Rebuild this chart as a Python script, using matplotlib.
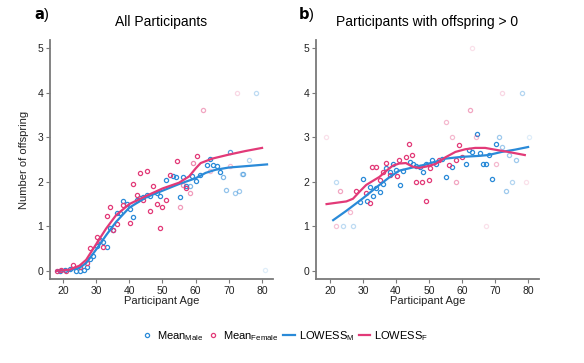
import numpy as np
import matplotlib
matplotlib.use("Agg")
import matplotlib.pyplot as plt
from matplotlib.lines import Line2D

plt.rcParams["font.family"] = ["Liberation Sans", "DejaVu Sans"]
plt.rcParams["mathtext.default"] = "regular"

BLUE = "#2a8ad8"
PINK = "#e23a78"
GREY = "#7a7a7a"

# ---- panel a: all participants (age, mean offspring, weight) ----
a_male_age = [19, 20.5, 22.2, 24, 25.2, 26.2, 27.2, 28.2, 29.2, 30.2, 31.2, 32.2, 33.2, 34.2,
              35.2, 36.2, 37.2, 38.2, 39.2, 40.2, 41.2, 42.2, 43.2, 44.2, 45.2, 46.2, 48.2,
              49.2, 51.2, 53.2, 54.2, 55.2, 56.2, 57.2, 58.2, 59, 60.2, 61.3, 63.4, 64.3,
              65.2, 66.3, 67.3, 68.3, 69, 70.3, 71.8, 73, 74, 74.2, 76.1, 78.2, 81]
a_male_val = [0, 0.02, 0.04, 0.01, 0, 0.02, 0.1, 0.26, 0.34, 0.56, 0.69, 0.66, 0.54, 0.96,
              0.93, 1.31, 1.29, 1.57, 1.51, 1.40, 1.20, 1.59, 1.63, 1.66, 1.70, 1.69, 1.74,
              1.68, 2.05, 2.13, 2.10, 1.65, 2.11, 1.90, 1.90, 2.13, 2.02, 2.15, 2.38, 2.51,
              2.38, 2.35, 2.22, 2.11, 1.81, 2.67, 1.75, 1.80, 2.17, 2.17, 2.50, 4.0, 0.02]
a_male_w = [1, 1, 1, 1, 1, 1, 1, 1, 1, 1, 1, 1, 1, 1,
            1, 1, 1, 1, 1, 1, 1, 1, 1, 1, 1, 1, 1,
            1, 1, 1, 1, 1, 1, 1, 0.6, 1, 1, 1, 1, 1,
            1, 1, 1, 0.6, 0.5, 0.8, 0.45, 0.45, 0.35, 0.6, 0.35, 0.3, 0.15]

a_fem_age = [18.2, 19.3, 21, 23, 25.2, 27.2, 28.2, 30.2, 31, 32.2, 33.2, 34.2, 35.2, 36.2,
             38.2, 40.2, 41.2, 42.2, 43.2, 44.2, 45.3, 46.2, 47.2, 48.2, 49.2, 50, 51.2,
             52.2, 54.4, 55.2, 56.2, 57.2, 58.2, 59.2, 60.4, 62.2, 64.3, 70.3, 72.5]
a_fem_val = [0, 0.02, 0, 0.13, 0.08, 0.17, 0.52, 0.77, 0.68, 0.54, 1.23, 1.44, 0.93, 1.05,
             1.49, 1.07, 1.96, 1.70, 2.20, 1.60, 2.24, 1.35, 1.90, 1.51, 0.96, 1.43, 1.60,
             2.15, 2.47, 1.43, 1.93, 1.85, 1.74, 2.42, 2.58, 3.61, 2.24, 2.35, 4.0]
a_fem_w = [1, 1, 1, 1, 1, 1, 1, 1, 1, 1, 1, 1, 1, 1,
           1, 1, 1, 1, 1, 1, 1, 1, 1, 1, 1, 1, 1,
           1, 1, 0.5, 0.6, 1, 0.5, 0.6, 1, 0.45, 0.35, 0.35, 0.2]

a_lowess_m_age = [18, 22, 25, 27, 30, 33, 36, 40, 45, 50, 55, 60, 63, 66, 70, 75, 81.5]
a_lowess_m_val = [0, 0.02, 0.07, 0.18, 0.48, 0.8, 1.1, 1.42, 1.65, 1.8, 1.95, 2.08, 2.2, 2.27,
                  2.32, 2.35, 2.39]
a_lowess_f_age = [18, 22, 25, 27, 30, 33, 36, 40, 45, 50, 55, 58, 60, 61.5, 65, 70, 75, 80]
a_lowess_f_val = [0, 0.03, 0.12, 0.25, 0.6, 0.95, 1.25, 1.5, 1.68, 1.85, 1.98, 2.12, 2.3, 2.42,
                  2.52, 2.61, 2.69, 2.76]

# ---- panel b: participants with offspring > 0 ----
b_male_age = [22, 24, 27, 29, 29.9, 31.3, 32.1, 33.1, 34.1, 35.1, 36.1, 37.1, 38.1, 39.2,
              40, 41.2, 42.2, 44.2, 45.2, 46.2, 47.2, 48.2, 49.2, 51, 52, 54, 55.1, 57.1,
              61.1, 62.1, 63.1, 64.4, 65.4, 66.4, 67.4, 68.2, 69.1, 70.2, 71.2, 72.2, 73.2,
              74.2, 75.2, 76.3, 78.3, 80.3]
b_male_val = [2.0, 1.0, 1.0, 1.55, 2.07, 1.57, 1.89, 1.68, 1.87, 1.78, 1.96, 2.32, 2.22, 2.40,
              2.26, 1.93, 2.25, 2.45, 2.41, 2.36, 2.34, 2.22, 2.41, 2.5, 2.41, 2.52, 2.1, 2.34,
              2.41, 2.71, 2.67, 3.08, 2.65, 2.41, 2.4, 2.6, 2.07, 2.84, 3.0, 2.78, 1.8,
              2.6, 2.0, 2.49, 4.0, 3.0]
b_male_w = [0.3, 0.3, 0.3, 1, 1, 1, 1, 1, 1, 1, 1, 1, 1, 1,
            1, 1, 1, 1, 1, 1, 1, 1, 1, 1, 1, 1, 1, 1,
            1, 1, 1, 1, 1, 1, 1, 1, 1, 1, 0.45, 0.45, 0.45,
            0.45, 0.35, 0.45, 0.35, 0.15]

b_fem_age = [18.8, 22, 23, 26, 28, 31, 32.1, 32.9, 33.9, 35.1, 36.1, 37.1, 38.1, 40.2,
             41, 43, 44, 45, 46, 48, 49, 50, 50.2, 53, 55.1, 56.1, 57.1, 58.1, 58.1,
             59.1, 60.1, 62.3, 63.1, 64.2, 67.4, 70.2, 72.2, 79.5]
b_fem_val = [3.0, 1.0, 1.8, 1.33, 1.8, 1.74, 1.53, 2.34, 2.34, 2.05, 2.22, 2.43, 2.15, 2.13,
             2.5, 2.56, 2.84, 2.6, 2.0, 2.0, 1.57, 2.05, 2.3, 2.49, 3.34, 2.37, 3.0, 2.49, 2.0,
             2.82, 2.56, 3.6, 5.0, 3.0, 1.0, 2.41, 4.0, 2.0]
b_fem_w = [0.15, 0.3, 0.45, 0.35, 1, 1, 1, 1, 1, 1, 1, 1, 1, 1,
           1, 1, 1, 1, 1, 1, 1, 1, 1, 1, 0.35, 1, 0.35, 1, 0.45,
           1, 1, 0.45, 0.15, 0.35, 0.15, 0.35, 0.2, 0.15]

b_lowess_m_age = [21, 25, 30, 35, 38, 41, 45, 48, 52, 55, 60, 65, 68, 72, 76, 80]
b_lowess_m_val = [1.14, 1.35, 1.63, 1.93, 2.1, 2.25, 2.32, 2.37, 2.45, 2.52, 2.56, 2.58, 2.6,
                  2.67, 2.72, 2.78]
b_lowess_f_age = [19, 22, 25, 27, 29, 31, 33, 35, 37, 39, 41, 43, 45, 47, 49, 52, 55, 58, 61,
                  64, 67, 70, 74, 79]
b_lowess_f_val = [1.5, 1.53, 1.56, 1.62, 1.78, 1.93, 2.02, 2.11, 2.24, 2.36, 2.41, 2.42, 2.34,
                  2.31, 2.34, 2.4, 2.55, 2.67, 2.73, 2.76, 2.76, 2.72, 2.67, 2.6]

x_ticks = [20, 30, 40, 50, 60, 70, 80]
y_ticks = [0, 1, 2, 3, 4, 5]


def draw_means(ax, ages, vals, weights, color):
    for x, y, w in zip(ages, vals, weights):
        ax.plot(x, y, marker="o", ms=3.0, mfc="none", mec=color, mew=0.9,
                alpha=w, linestyle="none", zorder=2)


def style_axes(ax, xlim):
    ax.set_xlim(*xlim)
    ax.set_ylim(-0.18, 5.18)
    ax.set_xticks(x_ticks)
    ax.set_yticks(y_ticks)
    for side in ("top", "right"):
        ax.spines[side].set_visible(False)
    for side in ("left", "bottom"):
        ax.spines[side].set_color(GREY)
        ax.spines[side].set_linewidth(1.3)
    ax.tick_params(labelsize=7.5, length=3, width=0.8, color=GREY, pad=2,
                   labelcolor="#222222")
    ax.set_xlabel("Participant Age", fontsize=8, labelpad=0, color="#222222")


fig = plt.figure(figsize=(5.84, 3.63), dpi=100)
ax_a = fig.add_axes([50 / 584, 84 / 363, 223 / 584, 239 / 363])
ax_b = fig.add_axes([316 / 584, 84 / 363, 223 / 584, 239 / 363])

draw_means(ax_a, a_male_age, a_male_val, a_male_w, BLUE)
draw_means(ax_a, a_fem_age, a_fem_val, a_fem_w, PINK)
ax_a.plot(a_lowess_m_age, a_lowess_m_val, color=BLUE, lw=1.6, zorder=3)
ax_a.plot(a_lowess_f_age, a_lowess_f_val, color=PINK, lw=1.6, zorder=3)
style_axes(ax_a, (16.1, 83.3))
ax_a.set_ylabel("Number of offspring", fontsize=8, labelpad=6, color="#222222")
ax_a.set_title("All Participants", fontsize=10, pad=10)

draw_means(ax_b, b_male_age, b_male_val, b_male_w, BLUE)
draw_means(ax_b, b_fem_age, b_fem_val, b_fem_w, PINK)
ax_b.plot(b_lowess_m_age, b_lowess_m_val, color=BLUE, lw=1.6, zorder=3)
ax_b.plot(b_lowess_f_age, b_lowess_f_val, color=PINK, lw=1.6, zorder=3)
style_axes(ax_b, (15.8, 83.3))
ax_b.set_title("Participants with offspring > 0", fontsize=10, pad=10)

fig.text(34 / 584, 1 - 15 / 363, "$\\bf{a}$)", fontsize=10.5, va="center")
fig.text(298 / 584, 1 - 15 / 363, "$\\bf{b}$)", fontsize=10.5, va="center")

handles = [
    Line2D([], [], marker="o", ms=3.0, mfc="none", mec=BLUE, mew=0.9, ls="none"),
    Line2D([], [], marker="o", ms=3.0, mfc="none", mec=PINK, mew=0.9, ls="none"),
    Line2D([], [], color=BLUE, lw=1.6),
    Line2D([], [], color=PINK, lw=1.6),
]
labels = ["Mean$_{Male}$", "Mean$_{Female}$", "LOWESS$_{M}$", "LOWESS$_{F}$"]
fig.legend(handles, labels, loc="center", bbox_to_anchor=(285 / 584, 1 - 336 / 363),
           ncol=4, frameon=False, fontsize=8, handlelength=1.0, handletextpad=0.4,
           columnspacing=0.4)

fig.savefig("out.png", dpi=100, facecolor="white")
plt.close(fig)
